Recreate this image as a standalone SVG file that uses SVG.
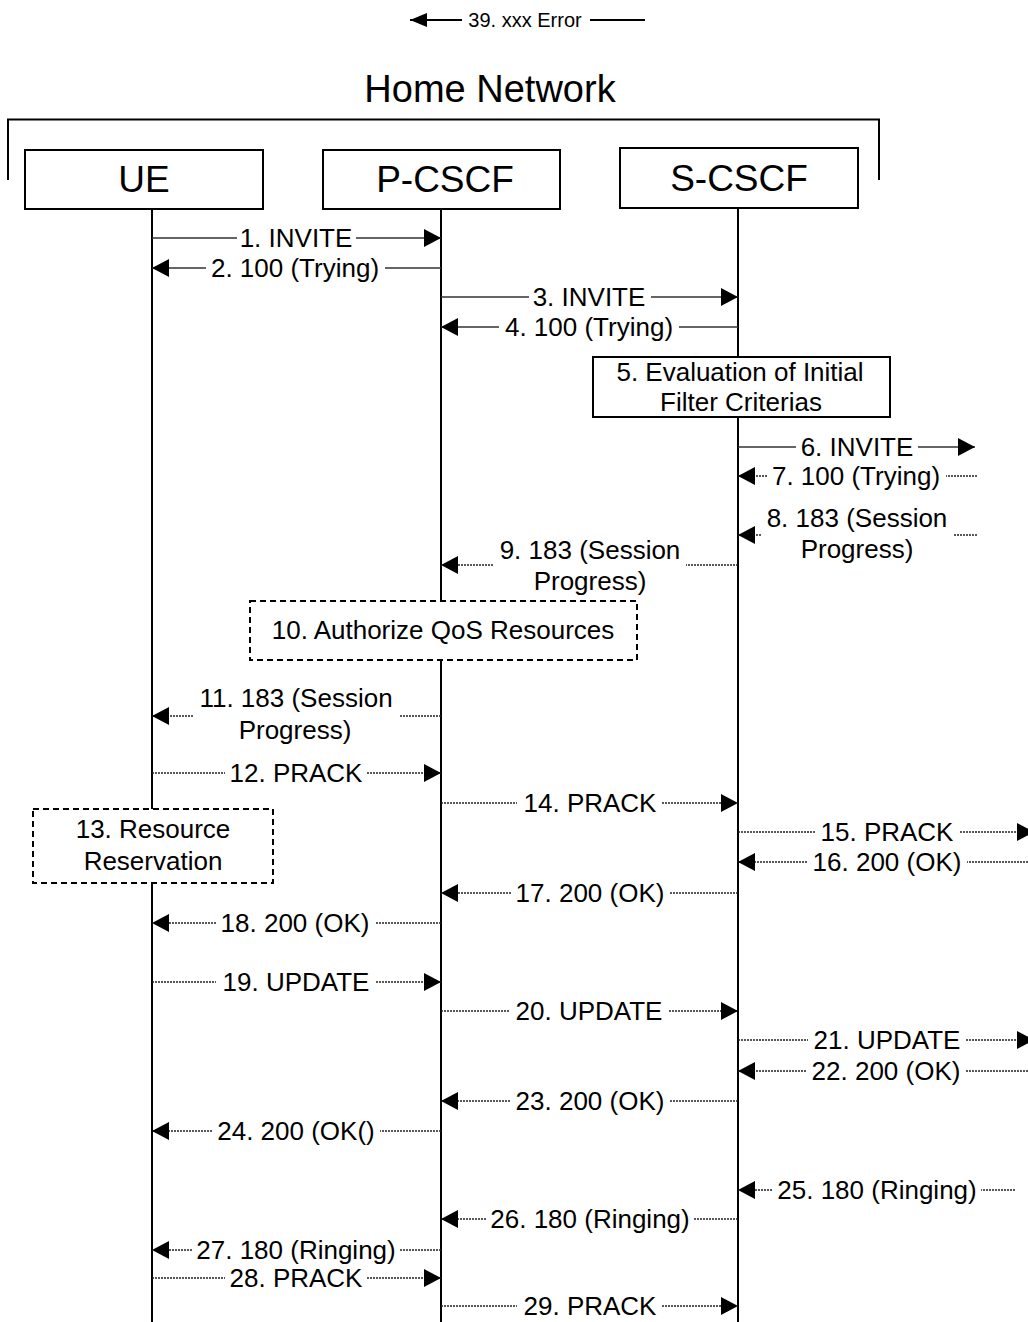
<svg xmlns="http://www.w3.org/2000/svg" width="1028" height="1322" viewBox="0 0 1028 1322">
<defs>
<marker id="ah" viewBox="0 0 17 18" refX="17" refY="9" markerWidth="17" markerHeight="18" markerUnits="userSpaceOnUse" orient="auto"><path d="M0,0L17,9L0,18z" fill="#000"/></marker>
<marker id="ahs" viewBox="0 0 17 14" refX="17" refY="7" markerWidth="17" markerHeight="14" markerUnits="userSpaceOnUse" orient="auto"><path d="M0,0L17,7L0,14z" fill="#000"/></marker>
<style>
text{font-family:"Liberation Sans",Arial,sans-serif;fill:#000;text-anchor:middle}
.lbl{font-size:26px}
.hdr{font-size:37px}
.ttl{font-size:38px}
.err{font-size:20px}
.life{stroke:#000;stroke-width:2;fill:none}
.box{fill:#fff;stroke:#000;stroke-width:2}
.dbox{fill:#fff;stroke:#000;stroke-width:2;stroke-dasharray:6,4}
.sol{stroke:#333;stroke-width:1.3;fill:none;marker-end:url(#ah)}
.dot{stroke:#222;stroke-width:1.3;fill:none;stroke-dasharray:2,1;marker-end:url(#ah)}
</style>
</defs>
<rect width="1028" height="1322" fill="#fff"/>

<g id="error39">
<path d="M645,20H590M462,20H410" stroke="#000" stroke-width="2" fill="none" marker-end="url(#ahs)"/>
<text class="err" x="525" y="27">39. xxx Error</text>
</g>

<g id="home-network">
<text class="ttl" x="490" y="102">Home Network</text>
<path d="M8,180V119.5H879V180" fill="none" stroke="#000" stroke-width="2"/>
</g>

<g id="lifelines">
<path class="life" d="M152,209V1322M441,209V1322M738,208V1322"/>
</g>

<g id="UE"><rect class="box" x="25" y="150" width="238" height="59"/><text class="hdr" x="144" y="192">UE</text></g>
<g id="P-CSCF"><rect class="box" x="323" y="150" width="237" height="59"/><text class="hdr" x="445" y="192">P-CSCF</text></g>
<g id="S-CSCF"><rect class="box" x="620" y="148" width="238" height="60"/><text class="hdr" x="739" y="191">S-CSCF</text></g>

<g id="step5"><rect class="box" x="593" y="357" width="297" height="60"/><text class="lbl" x="740" y="381">5. Evaluation of Initial</text><text class="lbl" x="741" y="411">Filter Criterias</text></g>
<g id="step10"><rect class="dbox" x="250" y="601" width="387" height="59"/><text class="lbl" x="443" y="639">10. Authorize QoS Resources</text></g>
<g id="step13"><rect class="dbox" x="33" y="809" width="240" height="74"/><text class="lbl" x="153" y="838">13. Resource</text><text class="lbl" x="153" y="870">Reservation</text></g>

<g id="connectors">
<path class="sol" d="M152,238H237M356,238H441"/><text class="lbl" x="296" y="247">1. INVITE</text>
<path class="sol" d="M441,268H385M206,268H152"/><text class="lbl" x="295" y="277">2. 100 (Trying)</text>
<path class="sol" d="M441,297H529M651,297H738"/><text class="lbl" x="589" y="306">3. INVITE</text>
<path class="sol" d="M738,327H679M499,327H441"/><text class="lbl" x="589" y="336">4. 100 (Trying)</text>
<path class="sol" d="M738,447H796M918,447H975"/><text class="lbl" x="857" y="456">6. INVITE</text>
<path class="dot" d="M977,476H946M767,476H738"/><text class="lbl" x="856" y="485">7. 100 (Trying)</text>
<path class="dot" d="M977,535H953M761,535H738"/><text class="lbl" x="857" y="527">8. 183 (Session</text><text class="lbl" x="857" y="558">Progress)</text>
<path class="dot" d="M738,565H686M493,565H441"/><text class="lbl" x="590" y="559">9. 183 (Session</text><text class="lbl" x="590" y="590">Progress)</text>
<path class="dot" d="M441,716H400M193,716H152"/><text class="lbl" x="296" y="707">11. 183 (Session</text><text class="lbl" x="295" y="739">Progress)</text>
<path class="dot" d="M152,773H225M367,773H441"/><text class="lbl" x="296" y="782">12. PRACK</text>
<path class="dot" d="M441,803H517M662,803H738"/><text class="lbl" x="590" y="812">14. PRACK</text>
<path class="dot" d="M738,832H815M960,832H1034"/><text class="lbl" x="887" y="841">15. PRACK</text>
<path class="dot" d="M1028,862H967M807,862H738"/><text class="lbl" x="887" y="871">16. 200 (OK)</text>
<path class="dot" d="M738,893H669M511,893H441"/><text class="lbl" x="590" y="902">17. 200 (OK)</text>
<path class="dot" d="M441,923H375M216,923H152"/><text class="lbl" x="295" y="932">18. 200 (OK)</text>
<path class="dot" d="M152,982H216M376,982H441"/><text class="lbl" x="296" y="991">19. UPDATE</text>
<path class="dot" d="M441,1011H509M669,1011H738"/><text class="lbl" x="589" y="1020">20. UPDATE</text>
<path class="dot" d="M738,1040H808M966,1040H1034"/><text class="lbl" x="887" y="1049">21. UPDATE</text>
<path class="dot" d="M1028,1071H966M806,1071H738"/><text class="lbl" x="886" y="1080">22. 200 (OK)</text>
<path class="dot" d="M738,1101H669M510,1101H441"/><text class="lbl" x="590" y="1110">23. 200 (OK)</text>
<path class="dot" d="M441,1131H380M212,1131H152"/><text class="lbl" x="296" y="1140">24. 200 (OK()</text>
<path class="dot" d="M1015,1190H981M772,1190H738"/><text class="lbl" x="877" y="1199">25. 180 (Ringing)</text>
<path class="dot" d="M738,1219H694M486,1219H441"/><text class="lbl" x="590" y="1228">26. 180 (Ringing)</text>
<path class="dot" d="M441,1250H400M192,1250H152"/><text class="lbl" x="296" y="1259">27. 180 (Ringing)</text>
<path class="dot" d="M152,1278H225M367,1278H441"/><text class="lbl" x="296" y="1287">28. PRACK</text>
<path class="dot" d="M441,1306H517M662,1306H738"/><text class="lbl" x="590" y="1315">29. PRACK</text>
</g>
</svg>
